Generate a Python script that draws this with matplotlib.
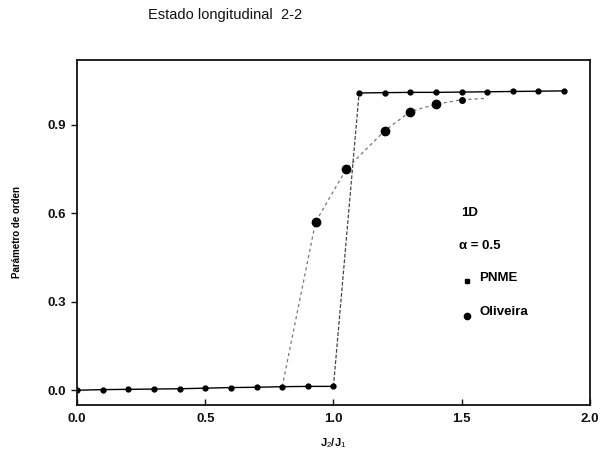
import matplotlib
matplotlib.use("Agg")
import matplotlib.pyplot as plt

plt.rcParams['font.family'] = ['Liberation Sans', 'DejaVu Sans']
plt.rcParams['mathtext.fontset'] = 'custom'
plt.rcParams['mathtext.rm'] = 'Liberation Sans'
plt.rcParams['mathtext.it'] = 'Liberation Sans'
plt.rcParams['mathtext.bf'] = 'Liberation Sans:bold'

# PNME order parameter, ordered (low) and disordered (high) branches
pnme_low_x = [0.0, 0.1, 0.2, 0.3, 0.4, 0.5, 0.6, 0.7, 0.8, 0.9, 1.0]
pnme_low_y = [0.000, 0.002, 0.003, 0.004, 0.005, 0.007, 0.009, 0.010, 0.012, 0.013, 0.013]
pnme_high_x = [1.1, 1.2, 1.3, 1.4, 1.5, 1.6, 1.7, 1.8, 1.9]
pnme_high_y = [1.008, 1.009, 1.010, 1.010, 1.011, 1.012, 1.013, 1.014, 1.015]

# Oliveira results and the guide curve through them
oliveira_x = [0.93, 1.05, 1.20, 1.30, 1.40]
oliveira_y = [0.57, 0.75, 0.88, 0.945, 0.97]
oliveira_tail_x = [1.50]
oliveira_tail_y = [0.985]
oliveira_curve_x = [0.80, 0.93, 1.05, 1.20, 1.30, 1.40, 1.50, 1.60]
oliveira_curve_y = [0.012, 0.57, 0.75, 0.88, 0.945, 0.97, 0.985, 0.99]

x_ticks = [0.0, 0.5, 1.0, 1.5, 2.0]
x_ticklabels = ["0.0", "0.5", "1.0", "1.5", "2.0"]
y_ticks = [0.0, 0.3, 0.6, 0.9]
y_ticklabels = ["0.0", "0.3", "0.6", "0.9"]

fig = plt.figure(figsize=(6.03, 4.54), dpi=100)
ax = fig.add_axes([0.128, 0.108, 0.850, 0.760])

# Oliveira guide curve and points
ax.plot(oliveira_curve_x, oliveira_curve_y, color='#777777', lw=0.9,
        linestyle=(0, (2.5, 2.5)), zorder=1)
ax.plot(oliveira_x, oliveira_y, linestyle='none', marker='o', markersize=6,
        color='black', zorder=3)
ax.plot(oliveira_tail_x, oliveira_tail_y, linestyle='none', marker='o',
        markersize=4, color='black', zorder=3)

# PNME branches joined by the jump
ax.plot([pnme_low_x[-1], pnme_high_x[0]], [pnme_low_y[-1], pnme_high_y[0]],
        color='#444444', lw=0.9, linestyle=(0, (3, 1.5)), zorder=2)
ax.plot(pnme_low_x, pnme_low_y, color='black', lw=1.0, marker='o',
        markersize=3.5, zorder=2)
ax.plot(pnme_high_x, pnme_high_y, color='black', lw=1.0, marker='o',
        markersize=3.5, zorder=2)

ax.set_xlim(0.0, 2.0)
ax.set_ylim(-0.05, 1.12)
ax.set_xticks(x_ticks)
ax.set_xticklabels(x_ticklabels)
ax.set_yticks(y_ticks)
ax.set_yticklabels(y_ticklabels)

for side in ['left', 'right', 'top', 'bottom']:
    ax.spines[side].set_linewidth(1.3)
    ax.spines[side].set_color('#111111')

ax.tick_params(axis='x', direction='in', length=4, width=1.0, pad=6,
               labelsize=9.5, colors='#111111')
ax.tick_params(axis='y', direction='out', length=4, width=1.0, pad=4,
               labelsize=9.5, colors='#111111')
for lab in ax.get_xticklabels() + ax.get_yticklabels():
    lab.set_fontweight('bold')

ax.set_xlabel(r"J$_2$/J$_1$", fontsize=8, fontweight='bold', labelpad=8)
ax.set_ylabel("Parámetro de orden", fontsize=7, fontweight='bold', labelpad=18)

fig.text(0.245, 0.967, "Estado longitudinal  2-2", fontsize=10.5,
         ha='left', va='center', color='#111111')

# Annotation block
ax.text(1.50, 0.60, "1D", fontsize=9.5, fontweight='bold', va='center')
ax.text(1.49, 0.49, "α = 0.5", fontsize=9.5, fontweight='bold', va='center')
ax.plot([1.52], [0.37], marker='s', markersize=2.8, color='black', linestyle='none')
ax.text(1.57, 0.38, "PNME", fontsize=9.5, fontweight='bold', va='center')
ax.plot([1.52], [0.25], marker='o', markersize=4.5, color='black', linestyle='none')
ax.text(1.57, 0.265, "Oliveira", fontsize=9.5, fontweight='bold', va='center')

fig.savefig("out.png", dpi=100)
